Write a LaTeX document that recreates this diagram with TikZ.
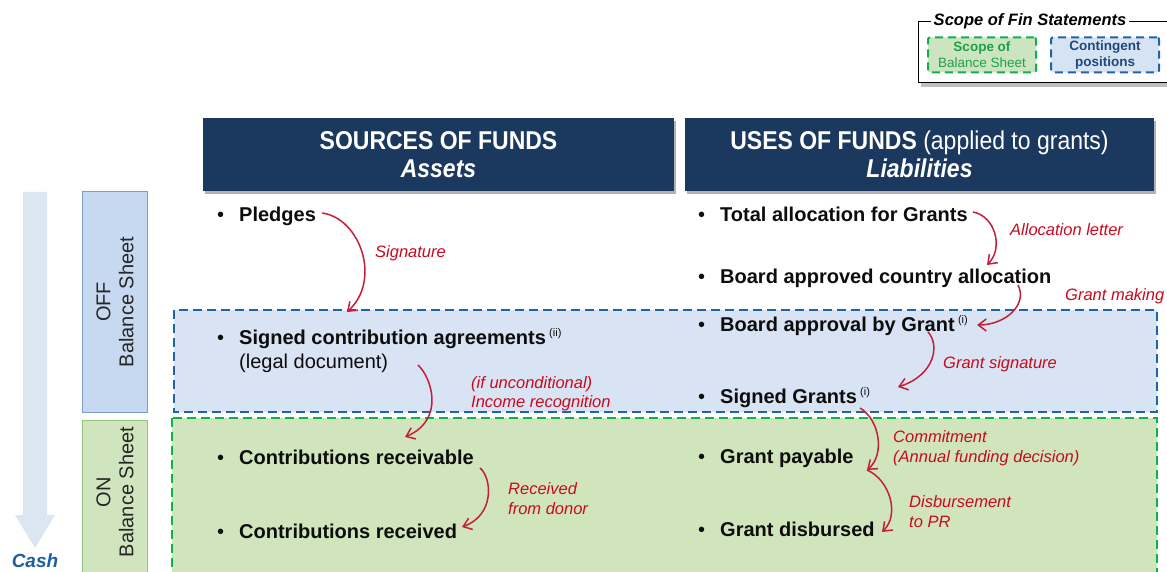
\documentclass[tikz,border=0pt]{standalone}
\usepackage{fontspec}
\setmainfont{Liberation Sans}
\usetikzlibrary{arrows.meta}
\definecolor{navy}{RGB}{27,56,94}
\definecolor{cashc}{RGB}{220,230,242}
\definecolor{cashtxt}{RGB}{31,95,159}
\definecolor{offfill}{RGB}{198,217,241}
\definecolor{offdraw}{RGB}{124,158,207}
\definecolor{onfill}{RGB}{208,229,190}
\definecolor{ondraw}{RGB}{147,196,125}
\definecolor{bluefill}{RGB}{216,227,243}
\definecolor{bluedash}{RGB}{31,100,166}
\definecolor{greenfill}{RGB}{209,229,189}
\definecolor{greendash}{RGB}{16,176,76}
\definecolor{redtxt}{RGB}{200,10,30}
\definecolor{redarr}{RGB}{196,30,62}
\definecolor{legblue}{RGB}{31,73,125}
\definecolor{leggreen}{RGB}{30,160,72}
\definecolor{legbluefill}{RGB}{214,227,245}
\definecolor{leggreenfill}{RGB}{204,229,192}
\definecolor{txt}{RGB}{13,13,13}
\newcommand{\bul}{\makebox[22pt][l]{\mdseries\textbullet}}
\newcommand{\supx}[1]{\,{\fontsize{11}{11}\selectfont\mdseries\raisebox{8pt}{#1}}}
\newcommand{\tall}[1]{\scalebox{1}[1.12]{#1}}
\begin{document}
\begin{tikzpicture}[x=1pt,y=-1pt,
  item/.style={anchor=base west, inner sep=0pt, text=txt, font=\fontsize{20}{24}\selectfont\bfseries},
  plain/.style={anchor=base west, inner sep=0pt, text=txt, font=\fontsize{20}{24}\selectfont},
  lbl/.style={anchor=base west, inner sep=0pt, text=redtxt, font=\fontsize{16.5}{20}\selectfont\itshape},
  flow/.style={draw=redarr, line width=1.5pt, -{Straight Barb[length=8pt,width=12pt]}},
  header/.style={fill=navy, text=white, inner sep=0pt, minimum width=471pt, minimum height=73pt, align=center, font=\fontsize{23}{28}\selectfont},
  sidebox/.style={rotate=90, inner sep=0pt, minimum height=65pt, line width=1pt},
  sidetext/.style={rotate=90, inner sep=0pt, align=center, font=\fontsize{20}{23}\selectfont, text=black!85},
  region/.style={line width=2pt, dash pattern=on 9pt off 5pt},
  legbox/.style={line width=2pt, dash pattern=on 8pt off 5pt, rounded corners=2pt, minimum width=108pt, minimum height=35pt, inner sep=0pt, align=center, font=\fontsize{13.5}{16}\selectfont}
]
\useasboundingbox (0,0) rectangle (1167,572);
\clip (0,0) rectangle (1167,572);
\fill[white] (0,0) rectangle (1167,572);

% legend
\fill[black!25] (921,26) rectangle (1180,87);
\draw[fill=white, line width=1pt] (918,22) rectangle (1177,83);
\node[fill=white, inner sep=3pt, font=\fontsize{16.5}{20}\selectfont\bfseries\itshape] (legtitle) at (1030,21) {Scope of Fin Statements};
\node[legbox, draw=greendash, fill=leggreenfill, text=leggreen] (legbs) at (982,55) {\textbf{Scope of}\\Balance Sheet};
\node[legbox, draw=bluedash, fill=legbluefill, text=legblue, font=\fontsize{13.5}{16}\selectfont\bfseries] (legcp) at (1105,55) {Contingent\\positions};

% headers
\fill[black!30] (205,121) rectangle (676,194);
\fill[black!30] (687,121) rectangle (1156,194);
\node[header] (hsrc) at (438.5,154.5) {\tall{\textbf{SOURCES OF FUNDS}}\\\tall{\textbf{\textit{Assets}}}};
\node[header, minimum width=469pt] (huse) at (919.5,154.5) {\tall{\textbf{USES OF FUNDS} (applied to grants)}\\\tall{\textbf{\textit{Liabilities}}}};

% cash arrow
\fill[cashc] (23,192) -- (47,192) -- (47,515) -- (55,515) -- (35,548) -- (15,515) -- (23,515) -- cycle;
\node[text=cashtxt, inner sep=0pt, font=\fontsize{19}{22}\selectfont\bfseries\itshape] (cash) at (35,561) {Cash};

% side boxes
\node[sidebox, draw=offdraw, fill=offfill, minimum width=220pt] (offbox) at (114.5,302) {};
\node[sidetext] (offtxt) at (115,302) {OFF\\Balance Sheet};
\node[sidebox, draw=ondraw, fill=onfill, minimum width=200pt] (onbox) at (114.5,520) {};
\node[sidetext] (ontxt) at (115,492) {ON\\Balance Sheet};

% regions
\draw[region, draw=bluedash, fill=bluefill] (174,310) rectangle (1157,412);
\draw[region, draw=greendash, fill=greenfill] (172,418) rectangle (1157,600);

% left column
\node[item] (pledges) at (217,222) {\bul Pledges};
\node[item] (sca) at (217,344) {\bul Signed contribution agreements\supx{(ii)}};
\node[plain] (legal) at (239,368) {(legal document)};
\node[item] (crv) at (217,464) {\bul Contributions receivable};
\node[item] (crd) at (217,538) {\bul Contributions received};

% right column
\node[item] (tag) at (698,222) {\bul Total allocation for Grants};
\node[item] (bca) at (698,283) {\bul Board approved country allocation};
\node[item] (bag) at (698,331) {\bul Board approval by Grant\supx{(i)}};
\node[item] (sg) at (698,403) {\bul Signed Grants\supx{(i)}};
\node[item] (gp) at (698,463) {\bul Grant payable};
\node[item] (gd) at (698,536) {\bul Grant disbursed};

% labels
\node[lbl] (l1) at (375,257) {Signature};
\node[lbl] (l2a) at (471,388) {(if unconditional)};
\node[lbl] (l2b) at (471,407) {Income recognition};
\node[lbl] (l3a) at (508,494) {Received};
\node[lbl] (l3b) at (508,514) {from donor};
\node[lbl] (l4) at (1010,236) {Allocation letter};
\node[lbl] (l5) at (1065,300) {Grant making};
\node[lbl] (l6) at (943,368) {Grant signature};
\node[lbl] (l7a) at (893,442) {Commitment};
\node[lbl] (l7b) at (893,462) {(Annual funding decision)};
\node[lbl] (l8a) at (909,507) {Disbursement};
\node[lbl] (l8b) at (909,527) {to PR};

% flow coordinates
\coordinate (a1s) at (322,213); \coordinate (a1e) at (347,312);
\coordinate (a2s) at (418,365); \coordinate (a2e) at (405,437);
\coordinate (a3s) at (480,468); \coordinate (a3e) at (462,527);
\coordinate (a4s) at (973,212); \coordinate (a4e) at (987,265);
\coordinate (a5s) at (1018,285); \coordinate (a5e) at (977,325);
\coordinate (a6s) at (928,332); \coordinate (a6e) at (898,387);
\coordinate (a7s) at (860,408); \coordinate (a7e) at (867,470);
\coordinate (a8e) at (882,532);

\draw[flow] (a1s) .. controls (360,218) and (382,280) .. (a1e);
\draw[flow] (a2s) .. controls (432,378) and (445,420) .. (a2e);
\draw[flow] (a3s) .. controls (492,478) and (495,515) .. (a3e);
\draw[flow] (a4s) .. controls (995,216) and (1004,248) .. (a4e);
\draw[flow] (a5s) .. controls (1028,305) and (1005,325) .. (a5e);
\draw[flow] (a6s) .. controls (940,345) and (935,375) .. (a6e);
\draw[flow] (a7s) .. controls (880,420) and (885,455) .. (a7e);
\draw[flow] (a7e) .. controls (890,480) and (900,515) .. (a8e);
\end{tikzpicture}
\end{document}
